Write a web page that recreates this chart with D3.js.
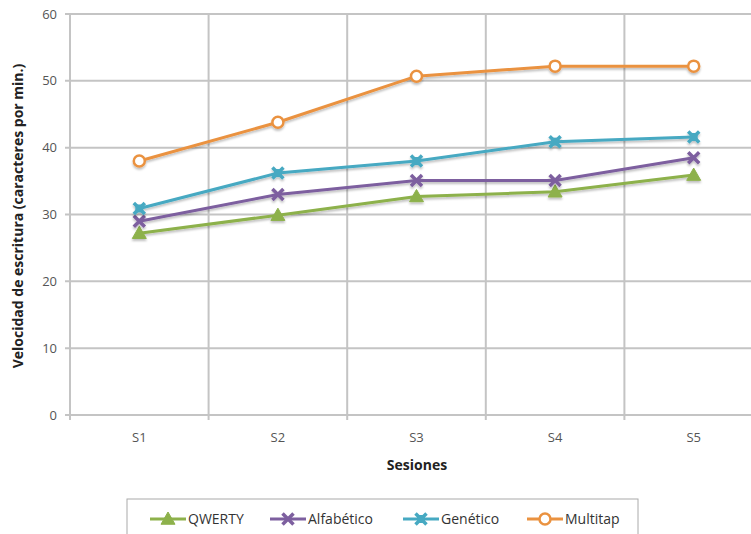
<!DOCTYPE html>
<html>
<head>
<meta charset="utf-8">
<script src="https://cdn.jsdelivr.net/npm/d3@7"></script>
<style>
  html, body { margin: 0; padding: 0; background: #fff; }
  svg { display: block; }
</style>
</head>
<body>
<svg id="chart" width="751" height="534"></svg>
<script>
// Sessions on the x axis
const sessions = ["S1", "S2", "S3", "S4", "S5"];
// Typing speed (characters per minute) per keyboard layout
const qwerty     = [27.2, 29.9, 32.7, 33.4, 35.9];
const alfabetico = [29.0, 33.0, 35.1, 35.1, 38.5];
const genetico   = [30.9, 36.2, 38.0, 40.9, 41.6];
const multitap   = [38.0, 43.8, 50.7, 52.2, 52.2];
const yTicks = [0, 10, 20, 30, 40, 50, 60];

const series = [
  { name: "QWERTY",     values: qwerty,     color: "#8db14b", marker: "triangle" },
  { name: "Alfabético", values: alfabetico, color: "#7d5f9f", marker: "cross" },
  { name: "Genético",   values: genetico,   color: "#46a9c2", marker: "star" },
  { name: "Multitap",   values: multitap,   color: "#ea9240", marker: "circle" }
];

(function () {
const svg = d3.select("#chart");
const plotL = 70, plotT = 14, plotB = 415, bandW = 138.6;
const plotR = plotL + bandW * sessions.length;
const font = "'Open Sans', sans-serif";

const x = d3.scaleBand().domain(sessions).range([plotL, plotR]);
const y = d3.scaleLinear().domain([0, 60]).range([plotB, plotT]);
const grid = "#c4c4c4";

// horizontal gridlines
svg.append("g").selectAll("line").data(yTicks).join("line")
  .attr("x1", plotL - 5).attr("x2", plotR)
  .attr("y1", d => y(d)).attr("y2", d => y(d))
  .attr("stroke", grid).attr("stroke-width", 2);

// vertical gridlines at category boundaries
const bounds = sessions.slice(1).map(s => x(s));
svg.append("g").selectAll("line").data(bounds).join("line")
  .attr("x1", d => d).attr("x2", d => d)
  .attr("y1", plotT).attr("y2", plotB + 5)
  .attr("stroke", grid).attr("stroke-width", 2);

// y axis line
svg.append("line").attr("x1", plotL).attr("x2", plotL)
  .attr("y1", plotT).attr("y2", plotB + 5)
  .attr("stroke", grid).attr("stroke-width", 2);

// y tick labels
svg.append("g").selectAll("text").data(yTicks).join("text")
  .attr("x", 57).attr("y", d => y(d)).attr("dy", "0.35em")
  .attr("text-anchor", "end")
  .attr("font-family", font).attr("font-size", 13)
  .attr("fill", "#555").text(d => d);

// x tick labels
svg.append("g").selectAll("text").data(sessions).join("text")
  .attr("x", d => x(d) + x.bandwidth() / 2).attr("y", 442)
  .attr("text-anchor", "middle")
  .attr("font-family", font).attr("font-size", 13)
  .attr("fill", "#555").text(d => d);

// axis titles
svg.append("text").attr("x", 417).attr("y", 470).attr("text-anchor", "middle")
  .attr("font-family", font).attr("font-size", 14)
  .attr("font-weight", "bold").attr("fill", "#222").text("Sesiones");

svg.append("text")
  .attr("transform", "translate(23,216) rotate(-90)")
  .attr("text-anchor", "middle")
  .attr("font-family", font).attr("font-size", 14)
  .attr("font-weight", "bold").attr("fill", "#222")
  .text("Velocidad de escritura (caracteres por min.)");

// marker drawing
function drawMarker(g, type, color, cx, cy) {
  if (type === "circle") {
    g.append("circle").attr("cx", cx).attr("cy", cy).attr("r", 5.5)
      .attr("fill", "#fff").attr("stroke", color).attr("stroke-width", 2.5);
  } else if (type === "triangle") {
    const s = 7;
    g.append("path")
      .attr("d", `M${cx},${cy - s}L${cx + s},${cy + s * 0.75}L${cx - s},${cy + s * 0.75}Z`)
      .attr("fill", color).attr("stroke", color).attr("stroke-width", 1);
  } else if (type === "cross") {
    const s = 5.5;
    g.append("path")
      .attr("d", `M${cx - s},${cy - s}L${cx + s},${cy + s}M${cx + s},${cy - s}L${cx - s},${cy + s}`)
      .attr("stroke", color).attr("stroke-width", 3.5).attr("fill", "none");
  } else if (type === "star") {
    const s = 5.5;
    g.append("path")
      .attr("d", `M${cx - s},${cy - s}L${cx + s},${cy + s}M${cx + s},${cy - s}L${cx - s},${cy + s}`)
      .attr("stroke", color).attr("stroke-width", 3.5).attr("fill", "none");
    g.append("rect").attr("x", cx - 4).attr("y", cy - 4).attr("width", 8).attr("height", 8)
      .attr("fill", color);
  }
}

const line = d3.line()
  .x((d, i) => x(sessions[i]) + x.bandwidth() / 2)
  .y(d => y(d));

// soft drop shadow under the series
const defs = svg.append("defs");
const f = defs.append("filter").attr("id", "sh").attr("x", "-10%").attr("y", "-10%")
  .attr("width", "130%").attr("height", "140%");
f.append("feDropShadow").attr("dx", 0).attr("dy", 2).attr("stdDeviation", 1.2)
  .attr("flood-color", "#000").attr("flood-opacity", 0.25);

series.forEach(s => {
  const g = svg.append("g").attr("filter", "url(#sh)");
  g.append("path").datum(s.values).attr("d", line)
    .attr("fill", "none").attr("stroke", s.color).attr("stroke-width", 3);
  s.values.forEach((v, i) => {
    drawMarker(g, s.marker, s.color, x(sessions[i]) + x.bandwidth() / 2, y(v));
  });
});

// legend
const lg = svg.append("g");
lg.append("rect").attr("x", 127).attr("y", 499).attr("width", 511).attr("height", 40)
  .attr("fill", "#fff").attr("stroke", "#aaa").attr("stroke-width", 1);
const legendX = [150, 270, 403, 527];
series.forEach((s, i) => {
  const lx = legendX[i], ly = 519;
  const gi = lg.append("g");
  gi.append("line").attr("x1", lx).attr("x2", lx + 36).attr("y1", ly).attr("y2", ly)
    .attr("stroke", s.color).attr("stroke-width", 3);
  drawMarker(gi, s.marker, s.color, lx + 18, ly);
  gi.append("text").attr("x", lx + 38).attr("y", ly).attr("dy", "0.35em")
    .attr("font-family", font).attr("font-size", 14)
    .attr("fill", "#333").text(s.name);
});
})();
</script>
</body>
</html>
